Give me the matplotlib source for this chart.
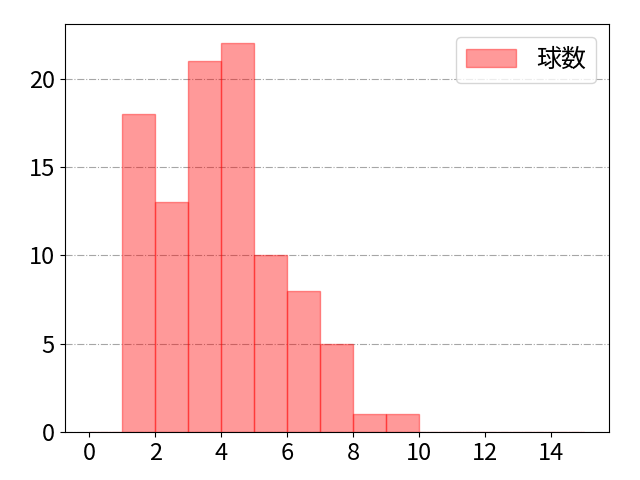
import matplotlib
matplotlib.use('Agg')
import matplotlib.pyplot as plt
import numpy as np

plt.rcParams['font.family'] = ['Noto Sans CJK JP', 'DejaVu Sans']

# pitch count per bin (bins of width 1 from 0 to 15)
bin_edges = list(range(0, 16))
counts = [0, 18, 13, 21, 22, 10, 8, 5, 1, 1, 0, 0, 0, 0, 0]
label = '球数'
xticks = [0, 2, 4, 6, 8, 10, 12, 14]

fig, ax = plt.subplots(figsize=(6.4, 4.8), dpi=100)

ax.hist(bin_edges[:-1], bins=bin_edges, weights=counts,
        color='red', alpha=0.4, edgecolor='red', linewidth=1, label=label)

ax.grid(axis='y', linestyle='-.', color='gray', alpha=0.7)
ax.set_axisbelow(True)
ax.set_xticks(xticks)
ax.tick_params(labelsize=17)
ax.legend(loc='upper right', fontsize=18)

fig.subplots_adjust(left=0.101, right=0.951, top=0.95, bottom=0.1)
plt.savefig('out.png', dpi=100)
plt.close()
